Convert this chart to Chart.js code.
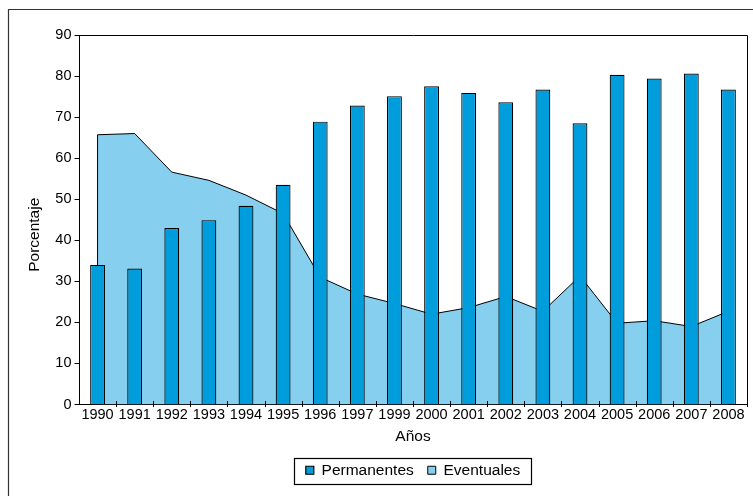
<!DOCTYPE html>
<html>
<head>
<meta charset="utf-8">
<script src="https://cdn.jsdelivr.net/npm/chart.js@4/dist/chart.umd.min.js"></script>
<style>
  html, body { margin: 0; padding: 0; background: #fff; }
  #wrap { width: 753px; height: 496px; }
</style>
</head>
<body>
<div id="wrap"><canvas id="chart" width="753" height="496"></canvas></div>
<script>
// Años (1998 no figura en la serie)
const years = ['1990', '1991', '1992', '1993', '1994', '1995', '1996', '1997', '1999',
               '2000', '2001', '2002', '2003', '2004', '2005', '2006', '2007', '2008'];

// Porcentaje de trabajadores permanentes
const permanentes = [34.0, 33.1, 43.0, 44.9, 48.4, 53.5, 68.9, 72.8, 75.1,
                     77.5, 75.9, 73.6, 76.7, 68.5, 80.3, 79.4, 80.6, 76.7];

// Porcentaje de trabajadores eventuales
const eventuales = [65.7, 66.0, 56.6, 54.6, 51.0, 46.5, 31.0, 26.9, 24.6,
                    22.0, 23.6, 26.3, 22.7, 31.3, 19.8, 20.4, 19.0, 22.7];

const yMin = 0, yMax = 90, yStep = 10;

const FONT = "'Liberation Sans', Arial, Helvetica, sans-serif";
Chart.defaults.font.family = FONT;
Chart.defaults.color = '#000';

const px = v => Math.round(v) + 0.5;

// Marco exterior, caja del área de trazado, marcas del eje X, título del eje Y y recuadro de la leyenda
const decor = {
  id: 'decor',
  afterLayout(chart) {
    const a = chart.chartArea;
    chart.legend.left = a.left;
    chart.legend.right = a.right;
  },
  afterDatasetDraw(chart, args) {
    if (args.meta.type !== 'line') return;
    const pts = args.meta.data;
    const y0 = chart.scales.y.getPixelForValue(0);
    const ctx = chart.ctx;
    ctx.save();
    ctx.strokeStyle = '#000';
    ctx.lineWidth = 1;
    ctx.beginPath();
    [pts[0], pts[pts.length - 1]].forEach(p => {
      ctx.moveTo(p.x, p.y);
      ctx.lineTo(p.x, y0);
    });
    ctx.stroke();
    ctx.restore();
  },
  afterDraw(chart) {
    const ctx = chart.ctx;
    const a = chart.chartArea;
    const xs = chart.scales.x;
    ctx.save();

    // marco exterior
    ctx.strokeStyle = '#333';
    ctx.lineWidth = 1.2;
    ctx.beginPath();
    ctx.moveTo(8.5, chart.height);
    ctx.lineTo(8.5, 9.5);
    ctx.lineTo(chart.width, 9.5);
    ctx.stroke();

    // bordes superior y derecho del área de trazado
    ctx.strokeStyle = '#000';
    ctx.lineWidth = 1;
    ctx.beginPath();
    ctx.moveTo(px(a.left), px(a.top));
    ctx.lineTo(px(a.right), px(a.top));
    ctx.lineTo(px(a.right), px(a.bottom));
    ctx.stroke();

    // marcas entre categorías, cruzando el eje
    const n = xs.ticks.length;
    const step = (a.right - a.left) / n;
    ctx.beginPath();
    for (let k = 1; k <= n; k++) {
      const x = px(a.left + k * step);
      ctx.moveTo(x, a.bottom - 3.5);
      ctx.lineTo(x, a.bottom + 2.5);
    }
    ctx.stroke();

    // título del eje Y
    ctx.fillStyle = '#000';
    ctx.font = '15.5px ' + FONT;
    ctx.textAlign = 'center';
    ctx.textBaseline = 'alphabetic';
    ctx.translate(38.5, (a.top + a.bottom) / 2 + 15);
    ctx.rotate(-Math.PI / 2);
    ctx.fillText('Porcentaje', 0, 0);
    ctx.setTransform(1, 0, 0, 1, 0, 0);

    // recuadro de la leyenda
    const lg = chart.legend;
    const pad = lg.options.labels.padding;
    const fs = lg.options.labels.font.size;
    const start = (lg.left + pad + lg.right - lg.lineWidths[0]) / 2;
    const contentW = lg.lineWidths[0] - pad;
    const cy = lg.top + pad + fs / 2;
    ctx.strokeStyle = '#000';
    ctx.lineWidth = 1.2;
    ctx.strokeRect(px(start - 11.5), px(cy - 12.5), Math.round(contentW + 23), 26);
    ctx.restore();
  }
};

new Chart(document.getElementById('chart'), {
  type: 'bar',
  data: {
    labels: years,
    datasets: [
      {
        label: 'Permanentes',
        data: permanentes,
        backgroundColor: '#009ddc',
        borderColor: '#000',
        borderWidth: 1.2,
        barPercentage: 0.5,
        categoryPercentage: 0.8,
        order: 1
      },
      {
        type: 'line',
        label: 'Eventuales',
        data: eventuales,
        backgroundColor: '#87cfef',
        borderColor: '#000',
        borderWidth: 1,
        fill: 'origin',
        tension: 0,
        pointRadius: 0,
        order: 2
      }
    ]
  },
  options: {
    responsive: false,
    animation: false,
    devicePixelRatio: 1,
    layout: { padding: { top: 35, right: 6, bottom: 8, left: 0 } },
    plugins: {
      tooltip: { enabled: false },
      legend: {
        position: 'bottom',
        labels: {
          boxWidth: 8,
          boxHeight: 8,
          padding: 14,
          color: '#000',
          font: { size: 15.5 }
        }
      }
    },
    scales: {
      x: {
        offset: true,
        grid: { display: false, drawTicks: false },
        border: { display: true, color: '#000', width: 1 },
        ticks: { font: { size: 14.5 }, color: '#000', padding: 2, maxRotation: 0, autoSkip: false },
        title: { display: true, text: 'Años', font: { size: 15.5 }, color: '#000', padding: { top: 0, bottom: 2 } },
        afterFit(scale) { scale.height = 44; }
      },
      y: {
        min: yMin,
        max: yMax,
        ticks: { stepSize: yStep, font: { size: 14.5 }, color: '#000', padding: 3 },
        grid: { drawOnChartArea: false, drawTicks: true, tickLength: 4.5, color: '#000' },
        border: { display: true, color: '#000', width: 1 },
        afterFit(scale) { scale.width = 79; }
      }
    }
  },
  plugins: [decor]
});
</script>
</body>
</html>
